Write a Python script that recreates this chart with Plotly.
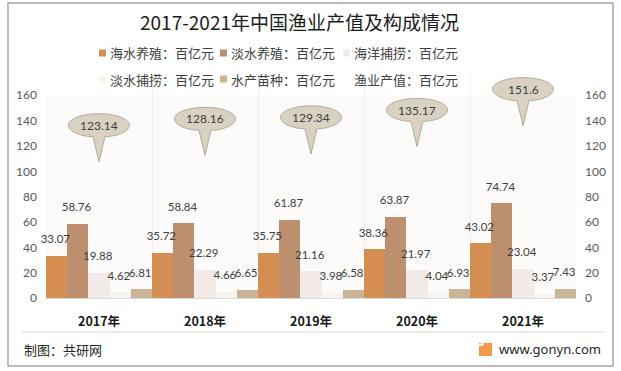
import plotly.graph_objects as go

# ---------------- data ----------------
years = ['2017年', '2018年', '2019年', '2020年', '2021年']
mariculture = [33.07, 35.72, 35.75, 38.36, 43.02]          # 海水养殖
freshwater_culture = [58.76, 58.84, 61.87, 63.87, 74.74]   # 淡水养殖
marine_fishing = [19.88, 22.29, 21.16, 21.97, 23.04]       # 海洋捕捞
freshwater_fishing = [4.62, 4.66, 3.98, 4.04, 3.37]        # 淡水捕捞
seedlings = [6.81, 6.65, 6.58, 6.93, 7.43]                 # 水产苗种
total_value = [123.14, 128.16, 129.34, 135.17, 151.6]      # 渔业产值
series_names = ['海水养殖：百亿元', '淡水养殖：百亿元', '海洋捕捞：百亿元',
                '淡水捕捞：百亿元', '水产苗种：百亿元']
total_name = '渔业产值：百亿元'
y_ticks = [0, 20, 40, 60, 80, 100, 120, 140, 160]

# ---------------- style ----------------
W, H = 621, 371
ML, MR, MT, MB = 46, 45, 75, 73
PW, PH = W - ML - MR, H - MT - MB
Y_MAX = 176
colors = ['#D48E52', '#BC8F6E', '#F2EAE7', '#F8F5F1', '#C9B497']
CJK = 'Noto Sans CJK SC'
NUM = 'Lato'
TXT = '#404040'
N = len(series_names)
BAR_W = 1.0 / N


def xp(px):
    return (px - ML) / PW


def yp(py):
    return (H - MB - py) / PH


x_idx = list(range(len(years)))
series = [mariculture, freshwater_culture, marine_fishing, freshwater_fishing, seedlings]

fig = go.Figure()
for name, vals, col in zip(series_names, series, colors):
    fig.add_trace(go.Bar(
        x=x_idx, y=vals, name=name, marker=dict(color=col, line=dict(width=0)),
        showlegend=False,
    ))

# value labels drawn above all bars
for j, (name, vals) in enumerate(zip(series_names, series)):
    fig.add_trace(go.Scatter(
        x=[i + (j - (N - 1) / 2) * BAR_W - 0.012 for i in x_idx], y=vals, mode='markers+text',
        marker=dict(size=14, opacity=0),
        text=[f'{v:g}' for v in vals], textposition='top center',
        textfont=dict(family=NUM, size=11.5, color=TXT),
        showlegend=False, hoverinfo='skip', cliponaxis=False,
    ))

fig.add_trace(go.Scatter(
    x=x_idx, y=total_value, name=total_name, mode='markers', yaxis='y2',
    marker=dict(size=6, opacity=0), showlegend=False,
))

shapes = []
annotations = []

# faint plot-area background
shapes.append(dict(type='rect', xref='x', yref='y', x0=-0.5, x1=4.5, y0=0, y1=160,
                   fillcolor='#FDFBF9', line=dict(width=0), layer='below'))

# callout bubbles for total value
k = 0.5523
rx, ry, dyc, dtip, bx = 0.288, 9.1, 13.2, 15.6, 0.057
for i, v in zip(x_idx, total_value):
    cx, cy = i, v + dyc
    yb = cy - ry * 0.98
    ty = v - dtip
    path = (f"M {cx-bx},{yb} L {cx},{ty} L {cx+bx},{yb} "
            f"C {cx+k*rx},{cy-ry} {cx+rx},{cy-k*ry} {cx+rx},{cy} "
            f"C {cx+rx},{cy+k*ry} {cx+k*rx},{cy+ry} {cx},{cy+ry} "
            f"C {cx-k*rx},{cy+ry} {cx-rx},{cy+k*ry} {cx-rx},{cy} "
            f"C {cx-rx},{cy-k*ry} {cx-k*rx},{cy-ry} {cx-bx},{yb} Z")
    shapes.append(dict(type='path', xref='x', yref='y', path=path,
                       fillcolor='#D9D2C3', line=dict(color='#B3AA98', width=1)))
    annotations.append(dict(x=cx, y=cy, xref='x', yref='y', text=f'{v:g}', showarrow=False,
                            font=dict(family=NUM, size=12, color=TXT)))

# legend (drawn as text + squares)
leg_rows = [53, 79]
leg_cols = [99, 220, 343]
leg_items = list(zip(series_names, colors)) + [(total_name, None)]
for n, (name, col) in enumerate(leg_items):
    r, c = divmod(n, 3)
    py = leg_rows[r]
    px = leg_cols[c]
    if col is not None:
        shapes.append(dict(type='rect', xref='paper', yref='paper',
                           x0=xp(px), x1=xp(px + 7), y0=yp(py + 3.5), y1=yp(py - 3.5),
                           fillcolor=col, line=dict(width=0)))
    annotations.append(dict(x=xp(px + 9), y=yp(py), xref='paper', yref='paper', text=name,
                            showarrow=False, xanchor='left', yanchor='middle',
                            font=dict(family=CJK, size=13, color=TXT)))

# outer frame
shapes.append(dict(type='rect', xref='paper', yref='paper', x0=xp(8), x1=xp(613),
                   y0=yp(366), y1=yp(3), line=dict(color='#A6A6A6', width=1.5)))
# footer separator
shapes.append(dict(type='line', xref='paper', yref='paper', x0=xp(22), x1=xp(604),
                   y0=yp(332), y1=yp(332), line=dict(color='#D9D9D9', width=1)))
# logo square
shapes.append(dict(type='rect', xref='paper', yref='paper', x0=xp(479), x1=xp(492),
                   y0=yp(356), y1=yp(343), fillcolor='#F29A4A', line=dict(width=0)))
annotations.append(dict(x=xp(485.5), y=yp(349.5), xref='paper', yref='paper', text='<b>G</b>',
                        showarrow=False, font=dict(family='DejaVu Sans', size=10, color='white')))
annotations.append(dict(x=xp(497), y=yp(349), xref='paper', yref='paper', text='www.gonyn.com',
                        showarrow=False, xanchor='left', yanchor='middle',
                        font=dict(family='Noto Sans', size=13, color='#262626')))
annotations.append(dict(x=xp(22), y=yp(349), xref='paper', yref='paper', text='制图：共研网',
                        showarrow=False, xanchor='left', yanchor='middle',
                        font=dict(family=CJK, size=13, color='#262626')))

fig.update_layout(
    width=W, height=H,
    margin=dict(l=ML, r=MR, t=MT, b=MB, autoexpand=False),
    paper_bgcolor='white', plot_bgcolor='white',
    barmode='group', bargap=0, bargroupgap=0,
    hovermode=False,
    title=dict(text='2017-2021年中国渔业产值及构成情况', x=299.5 / W, xanchor='center',
               y=1 - 23 / H, yanchor='middle', font=dict(family=CJK, size=19, color='#1A1A1A')),
    xaxis=dict(range=[-0.5, 4.5], tickmode='array', tickvals=x_idx, ticktext=years,
               showgrid=False, zeroline=False, showline=True, linecolor='#D9D9D9', linewidth=1,
               ticks='', ticklabelstandoff=12,
               tickfont=dict(family=CJK, size=12.5, color='#1A1A1A', weight='bold'),
               minor=dict(tickmode='array', tickvals=[0.5, 1.5, 2.5, 3.5], showgrid=True,
                          gridcolor='#F1EDE8', gridwidth=1, ticks='')),
    yaxis=dict(range=[0, Y_MAX], tickmode='array', tickvals=y_ticks, showgrid=False,
               zeroline=False, showline=False, ticks='', ticklabelstandoff=8,
               tickfont=dict(family=NUM, size=12, color='#595959')),
    yaxis2=dict(range=[0, Y_MAX], tickmode='array', tickvals=y_ticks, overlaying='y', side='right',
                showgrid=False, zeroline=False, showline=False, ticks='', ticklabelstandoff=8,
                tickfont=dict(family=NUM, size=12, color='#595959')),
    shapes=shapes, annotations=annotations,
)

fig.write_html('out.html', config={'displayModeBar': False},
               post_script="document.body.style.margin='0';document.body.style.overflow='hidden';")
